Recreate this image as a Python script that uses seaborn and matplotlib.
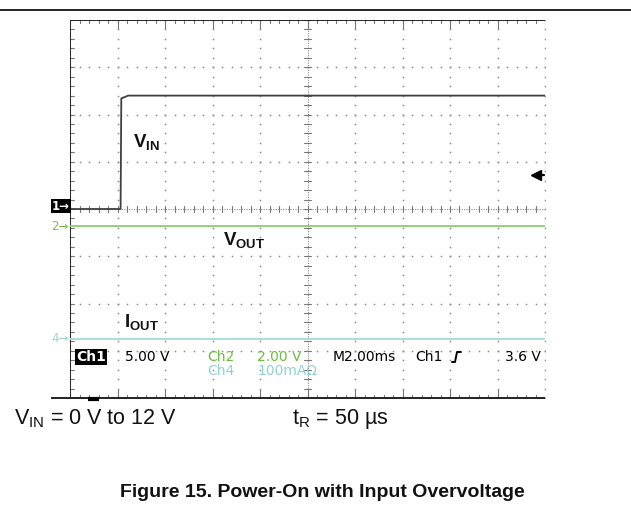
import numpy as np
import pandas as pd
import matplotlib
matplotlib.use("Agg")
import matplotlib.pyplot as plt
from matplotlib.lines import Line2D
import seaborn as sns

# ---------------- data ----------------
t_vin_ms = [0.0, 2.13, 2.16, 2.45, 20.0]
vin_v = [0.0, 0.0, 11.7, 12.0, 12.0]
t_flat_ms = [0.0, 20.0]
vout_v = [0.0, 0.0]
iout_ma = [0.0, 0.0]

ch1_scale = 5.0      # V/div
ch2_scale = 2.0      # V/div
ch4_scale = 100.0    # mA/div
time_scale = 2.0     # ms/div
ch1_offset = 4.0     # div
ch2_offset = 3.64    # div
ch4_offset = 1.25    # div
trigger_level = 3.6  # V

status_row1 = ["5.00 V", "Ch2", "2.00 V", "M2.00ms", "Ch1", "3.6 V"]
status_row2 = ["Ch4", "100mA\u03a9"]

# ---------------- style ----------------
sns.set_style("white")
plt.rcParams["font.family"] = ["Liberation Sans", "DejaVu Sans"]
plt.rcParams["mathtext.fontset"] = "custom"
plt.rcParams["mathtext.rm"] = "Liberation Sans"
plt.rcParams["mathtext.it"] = "Liberation Sans"
plt.rcParams["mathtext.bf"] = "Liberation Sans:bold"

W, H = 631, 519
fig = plt.figure(figsize=(W / 100, H / 100), dpi=100)

def fx(px):
    return px / W

def fy(py):
    return 1 - py / H

L, R, T, B = 70, 545, 20, 398
ax = fig.add_axes([fx(L), fy(B), (R - L) / W, (B - T) / H])
ax.set_xlim(0, 10)
ax.set_ylim(0, 8)
ax.axis("off")

# ---------------- graticule ----------------
dot_c = "#8a8a8a"
tick_c = "#777777"
fine = np.round(np.arange(0, 8.001, 0.2), 3)
finex = np.round(np.arange(0, 10.001, 0.2), 3)
for k in [1, 2, 3, 4, 6, 7, 8, 9, 10]:
    ax.plot(np.full_like(fine, k), fine, ls="none", marker="s", ms=1.1,
            mec="none", mfc=dot_c)
for j in [1, 2, 3, 5, 6, 7]:
    ax.plot(finex, np.full_like(finex, j), ls="none", marker="s", ms=1.1,
            mec="none", mfc=dot_c)
# center cross (dense dotted with ticks)
ax.axvline(5, color=dot_c, lw=0.8, ls=(0, (1, 1.2)))
ax.axhline(4, color=dot_c, lw=0.8, ls=(0, (1, 1.2)))
tx = 0.07
ty = 0.07
for y in fine:
    ax.plot([5 - tx, 5 + tx], [y, y], color=tick_c, lw=0.8)
for x in finex:
    ax.plot([x, x], [4 - ty, 4 + ty], color=tick_c, lw=0.8)
# border ticks
for y in fine:
    ax.plot([0, 0.08], [y, y], color=tick_c, lw=0.8)
for x in finex:
    ax.plot([x, x], [8, 8 - 0.07], color=tick_c, lw=0.8)
    ax.plot([x, x], [0, 0.07], color=tick_c, lw=0.8)
for x in range(1, 10):
    ax.plot([x, x], [0, 0.16], color=tick_c, lw=0.8)
    ax.plot([x, x], [8, 8 - 0.16], color=tick_c, lw=0.8)
# borders
ax.plot([0, 0], [0, 8], color="#222222", lw=1.4, solid_capstyle="butt")
ax.plot([-0.4, 10], [0, 0], color="#222222", lw=1.4, solid_capstyle="butt",
        clip_on=False)
ax.plot([0, 10], [8, 8], color="#222222", lw=1.4, solid_capstyle="butt")
ax.plot([0.38, 0.6], [-0.02, -0.02], color="black", lw=3, solid_capstyle="butt",
        clip_on=False)

# ---------------- traces ----------------
df = pd.concat([
    pd.DataFrame({"div_x": np.array(t_vin_ms) / time_scale,
                  "div_y": ch1_offset + np.array(vin_v) / ch1_scale,
                  "ch": "Ch1"}),
    pd.DataFrame({"div_x": np.array(t_flat_ms) / time_scale,
                  "div_y": ch2_offset + np.array(vout_v) / ch2_scale,
                  "ch": "Ch2"}),
    pd.DataFrame({"div_x": np.array(t_flat_ms) / time_scale,
                  "div_y": ch4_offset + np.array(iout_ma) / ch4_scale,
                  "ch": "Ch4"}),
])
pal = {"Ch1": "#404040", "Ch2": "#8fcc70", "Ch4": "#a3dada"}
sns.lineplot(data=df, x="div_x", y="div_y", hue="ch", palette=pal,
             sort=False, estimator=None, lw=1.3, legend=False, ax=ax)

# trigger level marker on right edge
trig_y = ch1_offset + trigger_level / ch1_scale
ax.plot([9.82], [trig_y], marker="<", ms=6.5, color="black", clip_on=False)
ax.plot([9.82, 9.97], [trig_y] * 2, color="black", lw=1.6)

# ---------------- trace labels ----------------
ax_lbl = dict(fontsize=13.5, color="#111111", va="baseline", ha="left")
fig.text(fx(133), fy(147), r"$\mathbf{V_{IN}}$", **ax_lbl)
fig.text(fx(223), fy(245), r"$\mathbf{V_{OUT}}$", **ax_lbl)
fig.text(fx(124), fy(327), r"$\mathbf{I_{OUT}}$", **ax_lbl)

# channel markers on the left
mk = dict(fontsize=8.5, family=["DejaVu Sans"], va="center", ha="left")
fig.text(fx(52), fy(206), "1\u2192", color="white", fontweight="bold",
         bbox=dict(boxstyle="square,pad=0.08", fc="black", ec="none"), **mk)
fig.text(fx(51), fy(226), "2\u2192", color="#74c046", **mk)
fig.text(fx(51), fy(339), "4\u2192", color="#93d3d3", **mk)

# ---------------- status line ----------------
st = dict(fontsize=10, family=["DejaVu Sans"], va="center", ha="left")
fig.text(fx(76), fy(357), "Ch1", color="white", fontweight="bold",
         bbox=dict(boxstyle="square,pad=0.08", fc="black", ec="none"), **st)
fig.text(fx(125), fy(357), status_row1[0], color="black", **st)
fig.text(fx(207), fy(357), status_row1[1], color="#6cbd3c", **st)
fig.text(fx(257), fy(357), status_row1[2], color="#6cbd3c", **st)
fig.text(fx(207), fy(371), status_row2[0], color="#8fd2d2", **st)
fig.text(fx(257), fy(371), status_row2[1], color="#8fd2d2", **st)
fig.text(fx(333), fy(357), status_row1[3], color="black", **st)
fig.text(fx(415), fy(357), status_row1[4], color="black", **st)
st_r = dict(st)
st_r["ha"] = "right"
fig.text(fx(541), fy(357), status_row1[5], color="black", **st_r)
# rising-edge symbol
fig.add_artist(Line2D([fx(452), fx(455), fx(457), fx(461)],
                      [fy(362), fy(362), fy(352), fy(352)],
                      color="black", lw=1.4))

# ---------------- text below ----------------
fig.text(fx(14), fy(424), r"V$_{\mathrm{IN}}$ = 0 V to 12 V", fontsize=15.5,
         color="#111111", va="baseline", ha="left")
fig.text(fx(292), fy(424), "t$_{\\mathrm{R}}$ = 50 \u00b5s", fontsize=15.5,
         color="#111111", va="baseline", ha="left")
fig.text(fx(322), fy(497), "Figure 15. Power-On with Input Overvoltage",
         fontsize=14, fontweight="bold", color="#111111", va="baseline",
         ha="center")

# page rule on top
fig.add_artist(Line2D([0, 1], [fy(10), fy(10)], color="black", lw=1.2))

fig.savefig("out.png", dpi=100)
